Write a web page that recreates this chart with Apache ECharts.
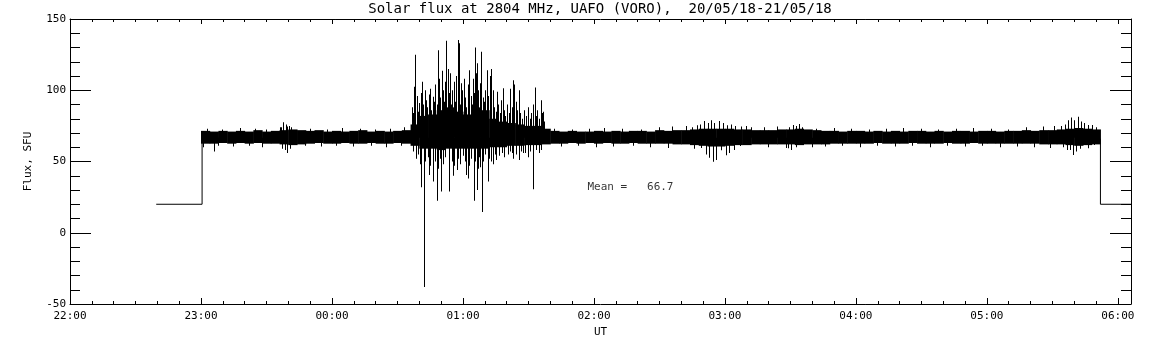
<!DOCTYPE html>
<html>
<head>
<meta charset="utf-8">
<title>Solar flux 2804 MHz</title>
<script src="https://cdn.jsdelivr.net/npm/echarts@6/dist/echarts.min.js"></script>
<style>
	html, body { margin: 0; padding: 0; background: #fff; }
	#content { width: 1152px; height: 345px; }
</style>
</head>
<body>
<div id="content"></div>
<script>
// time is minutes after 22:00 UT (20/05/18)
const meanFlux = 66.7;

// quiet band envelope, 4 minute buckets
const bandTime = [60, 64, 68, 72, 76, 80, 84, 88, 92, 96, 100, 104, 108, 112, 116, 120, 124, 128, 132, 136,
	140, 144, 148, 152, 156, 160, 164, 168, 172, 176, 180, 184, 188, 192, 196, 200, 204, 208, 212, 216,
	220, 224, 228, 232, 236, 240, 244, 248, 252, 256, 260, 264, 268, 272, 276, 280, 284, 288, 292, 296,
	300, 304, 308, 312, 316, 320, 324, 328, 332, 336, 340, 344, 348, 352, 356, 360, 364, 368, 372, 376,
	380, 384, 388, 392, 396, 400, 404, 408, 412, 416, 420, 424, 428, 432, 436, 440, 444, 448, 452, 456,
	460, 464, 468];
const bandEnd = 472;
const bandHigh = [71.5, 71, 71.5, 71, 71.5, 71, 72, 71, 71.5, 72, 72.5, 72, 71.5, 72, 71, 71.5, 71, 71.5, 72, 71,
	71.5, 71, 71.5, 72, 76, 82, 83, 86, 88, 85, 83, 88, 86, 80, 78, 77, 76, 75, 75, 73,
	71.5, 71, 71.5, 71, 71, 71.5, 71, 71.5, 71, 71.5, 71.5, 71, 72, 71.5, 72, 72, 72.5, 73, 73, 73,
	73, 72.5, 72.5, 72, 72, 72, 72.5, 72.5, 73, 72.5, 72, 71.5, 71.5, 71, 71.5, 71.5, 71, 71.5, 71, 71.5,
	71, 71.5, 71.5, 71, 71.5, 71, 71.5, 71.5, 71, 71.5, 71.5, 71, 71.5, 71.5, 72, 71.5, 72, 72, 72.5, 73,
	73.5, 73, 72.5];
const bandLow = [62.5, 62.5, 63, 62.5, 63, 62.5, 63, 62.5, 62.5, 62, 61.5, 62, 62.5, 63, 62.5, 62.5, 63, 62.5, 62.5, 63,
	62.5, 62.5, 63, 62.5, 61, 59, 59, 58, 59, 59, 59, 59, 59, 60, 60, 61, 61, 61.5, 61.5, 62,
	62.5, 62.5, 63, 62.5, 63, 62.5, 63, 62.5, 62.5, 63, 62.5, 62.5, 62.5, 62.5, 62, 62, 61.5, 61, 60.5, 60.5,
	61, 61.5, 61.5, 62, 62, 62, 62, 62, 61.5, 62, 62, 62, 62.5, 62.5, 62.5, 62.5, 62.5, 63, 62.5, 62.5,
	62.5, 63, 62.5, 62.5, 62.5, 63, 62.5, 62.5, 63, 62.5, 62.5, 62.5, 62.5, 62.5, 62.5, 62.5, 62, 62, 62, 61.5,
	61, 61.5, 62];

// spikes above the mean
const spikeUpTime = [157.2, 157.9, 158.3, 160.3, 161.4, 163.4, 165.3, 166.4, 168.7, 170.4, 172.5, 173.3, 174.4, 175.9,
	177.8, 178.6, 179.5, 180.6, 183.2, 185.8, 186.7, 188.7, 191.1, 192.4, 193.3, 195.9, 198.4, 202, 203, 203.8,
	205.8, 213, 216, 216.7,
	156.8, 159, 159.6, 160.8, 162, 162.8, 163.9, 164.6, 165.8, 167, 167.6, 168.2, 169.2, 169.8, 171, 171.6,
	172, 173.8, 174.9, 175.3, 176.5, 177, 178.1, 179, 180, 181.2, 181.8, 182.6, 183.8, 184.4, 185, 185.4,
	186.2, 187.3, 188, 189.3, 189.9, 190.5, 191.6, 192.9, 193.8, 194.5, 195.2, 196.5, 197.2, 197.8, 199,
	199.6, 200.4, 201.2, 202.5, 204.4, 205, 206.5, 207.2, 208.4, 209.2, 210, 210.8, 211.6, 212.4, 213.6,
	214.3, 215.2, 216.3, 217.2,
	96.5, 97, 98, 99, 99.6, 100.5, 101.5, 282.4, 285, 287.5, 289, 290.8, 292.4, 293.9, 295.4, 297.7, 299.2,
	301, 303, 305, 307.5, 309.9, 312, 329.5, 331.5, 332.8, 334.3, 335.5,
	454, 456, 457.3, 458.8, 460.3, 461.8, 463.3, 464.5, 466.4, 468.4, 470,
	63, 70, 78, 85, 90, 110, 118, 125, 133, 140, 147, 153, 222, 230, 238, 245, 253, 262, 270, 276,
	318, 324, 342, 350, 358, 366, 374, 382, 390, 398, 406, 414, 422, 430, 438, 446, 451];
const spikeUpFlux = [84, 102.5, 125, 91, 106, 93, 101, 95.5, 128, 113.7, 134.8, 115, 112, 106,
	135.3, 133, 105, 108, 114, 130, 119, 127, 114, 110, 115, 99, 101.4, 101, 107, 104,
	100, 102, 93, 85,
	88, 96, 85, 98, 90, 100, 88, 97, 86, 92, 104, 90, 108, 95, 100, 92,
	106, 98, 90, 100, 92, 110, 97, 90, 100, 95, 88, 104, 96, 90, 108, 98,
	112, 100, 105, 95, 92, 100, 96, 92, 100, 88, 85, 90, 84, 93, 86,
	82, 90, 84, 88, 92, 86, 84, 80, 86, 82, 88, 80, 84, 90, 82,
	86, 80, 84, 78,
	74, 74, 77.5, 76, 74.5, 75, 74, 75, 74, 75.5, 76, 78.5, 77, 79, 77, 78.5, 77,
	75.5, 76, 75, 74.5, 75, 74, 74, 75.6, 75, 76.3, 74,
	75, 76, 79, 80.8, 79, 81.4, 78, 77, 75.6, 75.6, 74,
	73, 72.5, 73.5, 73, 72.5, 73, 72.5, 73.5, 73, 72.5, 73, 74, 73, 72.5, 73, 73.5, 73, 72.5, 74, 74.5,
	74, 74.5, 73, 73.5, 73, 72.5, 73, 73.5, 73, 72.5, 73, 73.5, 73, 72.5, 74, 74.5, 75];

// spikes below the mean
const spikeDownTime = [161, 162.3, 164.9, 166.4, 168.2, 170.2, 173.7, 175.5, 177.4, 181.7, 182.4, 185.2, 186.6,
	188, 188.8, 191.6, 193.9, 195.4, 199.2, 203.3, 205.8, 207.6, 209.9, 212.2, 214.9,
	157.5, 158.8, 159.8, 160.5, 163, 164, 165, 167.2, 168.9, 169.6, 171.2, 172.2, 174, 175, 176.3, 178,
	179, 180.2, 181, 183, 184, 185.7, 187, 187.6, 189.6, 190.3, 192, 193, 194.8, 196.8, 198, 200.8, 201.8,
	202.8, 204.6, 206.8, 208.8, 211, 213.8, 216,
	66, 97.5, 98.5, 99.5, 101, 286, 289.3, 291.5, 293.1, 294.6, 296.2, 298.4, 300.7, 302.3, 304.5, 306.9,
	329, 330.5, 333,
	455, 457, 458.3, 459.5, 461, 463, 466.4, 469.5,
	61, 68, 75, 82, 88, 108, 115, 122, 130, 138, 145, 152, 225, 233, 241, 249, 258, 266, 274,
	320, 328, 340, 346, 354, 362, 370, 378, 386, 394, 402, 410, 418, 426, 434, 442, 449];
const spikeDownFlux = [32, -38, 40.5, 36, 22.5, 29, 29, 40, 44, 40.5, 38, 22.5, 30,
	46, 14.5, 36, 48, 51, 53, 52, 51, 56, 53, 30.5, 56,
	57, 52, 55, 48, 50, 53, 47, 50, 45, 52, 48, 53, 46, 50, 47, 52,
	48, 54, 50, 47, 52, 50, 45, 53, 50, 55, 52, 50, 55, 54, 56, 55, 57,
	56, 55, 57, 56, 57, 58, 58,
	57, 59, 58, 56, 59, 59, 59.5, 55, 52.6, 49.9, 51, 57.9, 54.4, 56, 58, 60.9,
	59.3, 58, 60,
	60, 58, 58, 54.6, 57, 59, 59.3, 61.6,
	60, 61, 60.5, 61, 60, 61, 60.5, 61, 60.5, 61, 60, 61, 60.5, 61, 60, 60.5, 61, 60, 59.5,
	60, 59.5, 60, 60.5, 61, 60, 61, 60.5, 61, 60, 61, 60.5, 61, 60, 60.5, 60, 59.5];

// receiver off before and after the session
const preTime = [39.5, 60.5, 60.5];
const preFlux = [20, 20, 66];
const postTime = [472, 472, 486];
const postFlux = [66, 20, 20];

const hourTicks = ['22:00', '23:00', '00:00', '01:00', '02:00', '03:00', '04:00', '05:00', '06:00'];
const meanLabelTime = 237;
const meanLabelFlux = 32;

let font = 'DejaVu Sans Mono';
let chart = echarts.init(document.getElementById('content'));

let bandData = bandTime.map((t, i) => [t, i + 1 < bandTime.length ? bandTime[i + 1] : bandEnd, bandLow[i], bandHigh[i]]);
let spikeData = spikeUpTime.map((t, i) => [t, meanFlux, spikeUpFlux[i]])
	.concat(spikeDownTime.map((t, i) => [t, spikeDownFlux[i], meanFlux]));

function fmtHour(v) {
	if (v % 60 !== 0) return '';
	return hourTicks[v / 60] || '';
}

function xAxisBase(grid, pos, interval, tickLen, labels) {
	return {
		gridIndex: grid, type: 'value', position: pos, min: 0, max: 486, interval: interval,
		axisLine: { show: grid === 0, onZero: false, lineStyle: { color: '#000', width: 1 } },
		axisTick: { show: true, inside: true, length: tickLen, lineStyle: { color: '#000', width: 1 } },
		axisLabel: { show: labels, color: '#000', fontFamily: font, fontSize: 11, margin: 7, formatter: fmtHour },
		splitLine: { show: false }
	};
}

function yAxisBase(grid, pos, labels) {
	return {
		gridIndex: grid, type: 'value', position: pos, min: -50, max: 150, interval: 50,
		show: grid === 0,
		axisLine: { show: true, onZero: false, lineStyle: { color: '#000', width: 1 } },
		axisTick: { show: true, inside: true, length: 21, lineStyle: { color: '#000', width: 1 } },
		minorTick: { show: true, splitNumber: 5, length: 10, lineStyle: { color: '#000', width: 1 } },
		axisLabel: { show: labels, color: '#000', fontFamily: font, fontSize: 11, margin: 4 },
		splitLine: { show: false }, minorSplitLine: { show: false }
	};
}

let xMain = xAxisBase(0, 'bottom', 60, 6, true);
xMain.name = 'UT';
xMain.nameLocation = 'middle';
xMain.nameGap = 12;
xMain.nameTextStyle = { color: '#000', fontFamily: font, fontSize: 11 };
let yMain = yAxisBase(0, 'left', true);
yMain.name = 'Flux, SFU';
yMain.nameLocation = 'middle';
yMain.nameGap = 36;
yMain.nameTextStyle = { color: '#000', fontFamily: font, fontSize: 11 };

chart.setOption({
	backgroundColor: '#fff',
	animation: false,
	grid: [
		{ left: 70, right: 21, top: 19, bottom: 41, outerBoundsMode: 'none' },
		{ left: 70, right: 21, top: 19, bottom: 41, outerBoundsMode: 'none' }
	],
	graphic: [{
		type: 'text', x: 600, y: 9,
		style: { text: 'Solar flux at 2804 MHz, UAFO (VORO),  20/05/18-21/05/18', fill: '#000',
			font: '14px "DejaVu Sans Mono"', textAlign: 'center', textVerticalAlign: 'middle' }
	}],
	xAxis: [
		xMain,
		xAxisBase(0, 'top', 60, 5, false),
		xAxisBase(1, 'bottom', 10, 3, false),
		xAxisBase(1, 'top', 10, 3, false)
	],
	yAxis: [
		yMain,
		yAxisBase(0, 'right', false),
		yAxisBase(1, 'left', false),
		yAxisBase(1, 'right', false)
	],
	series: [{
		name: 'band', type: 'custom', xAxisIndex: 0, yAxisIndex: 0, clip: true,
		encode: { x: [0, 1], y: [2, 3] },
		data: bandData,
		renderItem: function (params, api) {
			let p0 = api.coord([api.value(0), api.value(3)]);
			let p1 = api.coord([api.value(1), api.value(2)]);
			return { type: 'rect', shape: { x: p0[0], y: p0[1], width: p1[0] - p0[0] + 0.5, height: p1[1] - p0[1] },
				style: { fill: '#000' } };
		}
	}, {
		name: 'spikes', type: 'custom', xAxisIndex: 0, yAxisIndex: 0, clip: true,
		encode: { x: 0, y: [1, 2] },
		data: spikeData,
		renderItem: function (params, api) {
			let top = api.coord([api.value(0), api.value(2)]);
			let bot = api.coord([api.value(0), api.value(1)]);
			return { type: 'rect', shape: { x: Math.floor(top[0]), y: top[1], width: 1, height: bot[1] - top[1] },
				style: { fill: '#000' } };
		}
	}, {
		name: 'pre', type: 'line', xAxisIndex: 0, yAxisIndex: 0, showSymbol: false,
		data: preTime.map((t, i) => [t, preFlux[i]]),
		lineStyle: { color: '#000', width: 1 }
	}, {
		name: 'post', type: 'line', xAxisIndex: 0, yAxisIndex: 0, showSymbol: false,
		data: postTime.map((t, i) => [t, postFlux[i]]),
		lineStyle: { color: '#000', width: 1 }
	}, {
		name: 'mean', type: 'scatter', xAxisIndex: 0, yAxisIndex: 0, symbolSize: 0,
		data: [[meanLabelTime, meanLabelFlux]],
		label: { show: true, position: 'right', distance: 0, color: '#000', fontFamily: font, fontSize: 11,
			formatter: 'Mean =   ' + meanFlux.toFixed(1) }
	}]
});
</script>
</body>
</html>
